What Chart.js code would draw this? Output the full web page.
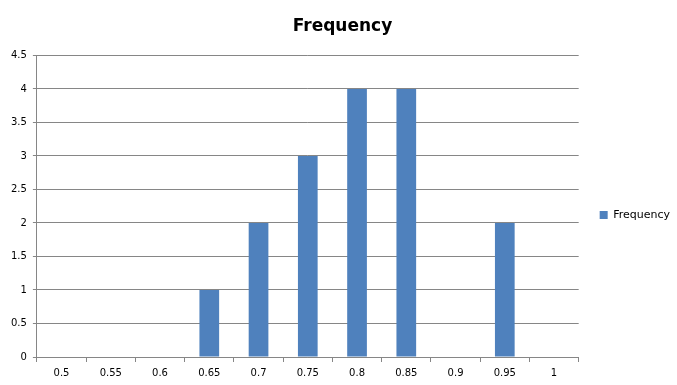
<!DOCTYPE html>
<html>
<head>
<meta charset="utf-8">
<script src="https://cdn.jsdelivr.net/npm/chart.js@4/dist/chart.umd.min.js"></script>
<style>
html,body{margin:0;padding:0;background:#fff;}
#wrap{width:677px;height:385px;position:relative;}
</style>
</head>
<body>
<div id="wrap"><canvas id="c" width="677" height="385"></canvas></div>
<script>
const categories = ['0.5','0.55','0.6','0.65','0.7','0.75','0.8','0.85','0.9','0.95','1'];
const frequency = [0,0,0,1,2,3,4,4,0,2,0];
const seriesName = 'Frequency';
const titleText = 'Frequency';

const gridColor = '#868686';
const font = 'Verdana, "DejaVu Sans", sans-serif';

new Chart(document.getElementById('c'), {
  type: 'bar',
  data: {
    labels: categories,
    datasets: [{
      label: seriesName,
      data: frequency,
      backgroundColor: '#4F81BD',
      borderWidth: 0,
      barPercentage: 0.4,
      categoryPercentage: 1.0
    }]
  },
  options: {
    responsive: false,
    animation: false,
    devicePixelRatio: 1,
    layout: { padding: { top: 8, right: -3, bottom: 1, left: 5 } },
    plugins: {
      title: {
        display: true,
        text: titleText,
        color: '#000',
        font: { family: font, size: 17, weight: 'bold' },
        padding: { top: 8, bottom: 19 }
      },
      legend: {
        display: true,
        position: 'right',
        title: { display: true, text: ' ', font: { family: font, size: 10 }, padding: { top: 0, bottom: 26 } },
        labels: {
          boxWidth: 8,
          boxHeight: 8,
          color: '#000',
          font: { family: font, size: 11 },
          padding: 21
        }
      },
      tooltip: { enabled: false }
    },
    scales: {
      x: {
        grid: {
          display: true,
          drawOnChartArea: false,
          drawTicks: true,
          tickLength: 5,
          color: gridColor,
          offset: true
        },
        border: { display: true, color: gridColor },
        ticks: { color: '#000', font: { family: font, size: 10 }, padding: 5, maxRotation: 0 }
      },
      y: {
        min: 0,
        max: 4.5,
        ticks: {
          stepSize: 0.5, color: '#000', font: { family: font, size: 10 }, padding: 6,
          callback: (v) => String(Math.round(v * 100) / 100)
        },
        grid: { color: gridColor, tickLength: 4 },
        border: { display: true, color: gridColor }
      }
    }
  }
});
</script>
</body>
</html>
